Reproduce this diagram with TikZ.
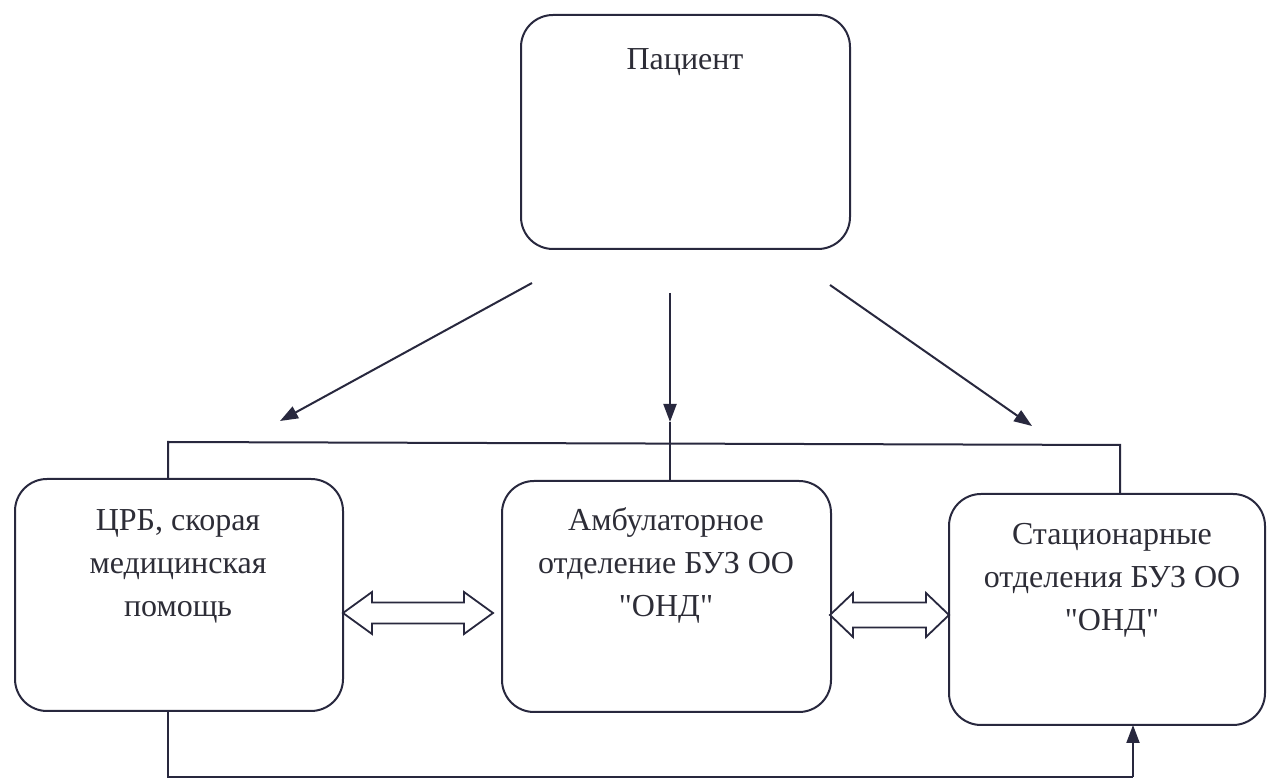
\documentclass[tikz,border=0pt]{standalone}
\usepackage{fontspec}
\setmainfont{Liberation Serif}[Ligatures=TeXOff]
\usetikzlibrary{arrows.meta}
\definecolor{ink}{RGB}{40,40,62}
\definecolor{txt}{RGB}{45,45,55}
\begin{document}
\begin{tikzpicture}[x=0.5pt,y=-0.5pt,
  box/.style={draw=ink,line width=1pt,rounded corners=16pt,inner sep=0pt,outer sep=0pt},
  lbl/.style={text=txt,align=center,font=\fontsize{16}{21.5}\selectfont,inner sep=0pt},
  conn/.style={draw=ink,line width=1pt},
  arr/.style={conn,-{Triangle[length=9pt,width=6.5pt]}},
  hollow/.style={draw=ink,line width=0.9pt,fill=white,line join=miter}]
\fill[white] (0,0) rectangle (1269,779);
\useasboundingbox (0,0) rectangle (1269,779);

% boxes
\node[box,minimum width=164.5pt,minimum height=117pt] (pat) at (685.5,132) {};
\node[lbl] (patt) at (685,62) {Пациент};
\node[box,minimum width=164pt,minimum height=116pt] (lb) at (179,595) {};
\node[lbl] (lbt) at (178,566) {ЦРБ, скорая\\медицинская\\помощь};
\node[box,minimum width=164.5pt,minimum height=115.5pt] (mb) at (666.5,596.5) {};
\node[lbl] (mbt) at (666,565) {Амбулаторное\\отделение БУЗ ОО\\"ОНД"};
\node[box,minimum width=158pt,minimum height=115.5pt] (rb) at (1107,609.5) {};
\node[lbl] (rbt) at (1112,580) {Стационарные\\отделения БУЗ ОО\\"ОНД"};

% arrows from patient
\coordinate (la0) at (532,283); \coordinate (la1) at (280,421);
\coordinate (ma0) at (670,293); \coordinate (ma1) at (670,422);
\coordinate (ra0) at (830,285); \coordinate (ra1) at (1032,426);
\draw[arr] (la0) -- (la1);
\draw[arr] (ma0) -- (ma1);
\draw[arr] (ra0) -- (ra1);

% bus line
\coordinate (busL) at (168,442); \coordinate (busR) at (1120,445);
\draw[conn] (busL |- lb.north) -- (busL) -- (busR) -- (busR |- rb.north);
\draw[conn] (ma1) -- (ma1 |- mb.north);

% bottom line
\coordinate (botL) at (168,777); \coordinate (botR) at (1133,777);
\draw[conn] (botL |- lb.south) -- (botL) -- (botR);
\draw[arr] (botR) -- (botR |- rb.south);

% hollow double arrows
\coordinate (d1) at (343,613);
\draw[hollow] (d1) -- ++(29,-21) -- ++(0,10.5) -- ++(92,0) -- ++(0,-10.5) -- ++(29,21)
  -- ++(-29,21) -- ++(0,-10.5) -- ++(-92,0) -- ++(0,10.5) -- cycle;
\coordinate (d2) at (830,615);
\draw[hollow] (d2) -- ++(23,-22) -- ++(0,9.5) -- ++(73,0) -- ++(0,-9.5) -- ++(23,22)
  -- ++(-23,22) -- ++(0,-9.5) -- ++(-73,0) -- ++(0,9.5) -- cycle;
\end{tikzpicture}
\end{document}
